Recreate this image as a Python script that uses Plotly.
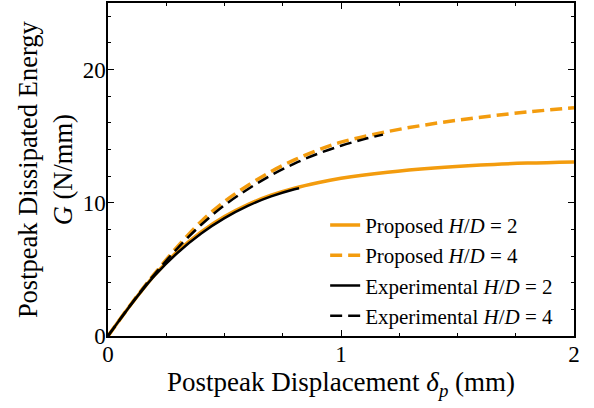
import plotly.graph_objects as go

# Data
x_prop = [0, 0.05, 0.1, 0.15, 0.2, 0.3, 0.4, 0.5, 0.6, 0.7, 0.8, 0.9, 1.0, 1.2, 1.4, 1.6, 1.8, 2.0]
g_prop_hd2 = [0, 1.22, 2.4, 3.52, 4.57, 6.37, 7.82, 8.97, 9.87, 10.57, 11.1, 11.51, 11.84, 12.3, 12.62, 12.84, 12.98, 13.07]
g_prop_hd4 = [0, 1.22, 2.42, 3.58, 4.68, 6.75, 8.6, 10.1, 11.3, 12.35, 13.22, 13.95, 14.55, 15.35, 15.95, 16.42, 16.82, 17.13]

x_exp_hd2 = [0, 0.05, 0.1, 0.15, 0.2, 0.3, 0.4, 0.5, 0.6, 0.7, 0.8, 0.82]
g_exp_hd2 = [0, 1.21, 2.39, 3.5, 4.53, 6.27, 7.7, 8.85, 9.77, 10.48, 11.02, 11.1]

x_exp_hd4 = [0, 0.05, 0.1, 0.15, 0.2, 0.3, 0.4, 0.5, 0.6, 0.7, 0.8, 0.9, 1.0, 1.1, 1.18]
g_exp_hd4 = [0, 1.21, 2.41, 3.56, 4.64, 6.62, 8.35, 9.82, 11.02, 12.07, 12.95, 13.68, 14.28, 14.78, 15.12]

x_label_ticks = [0, 1, 2]
x_half_ticks = [0.5, 1.5]
y_tickvals = [0, 10, 20]

series_names = [
    "Proposed <i>H</i>/<i>D</i> = 2",
    "Proposed <i>H</i>/<i>D</i> = 4",
    "Experimental <i>H</i>/<i>D</i> = 2",
    "Experimental <i>H</i>/<i>D</i> = 4",
]
x_title = "Postpeak Displacement <i>δ</i><sub><i>p</i></sub> (mm)"
y_title = "Postpeak Dissipated Energy<br><i>G</i> (N/mm)"

ORANGE = "#F39C0E"
FONT = "Liberation Serif"

fig = go.Figure()
fig.add_trace(go.Scatter(x=x_prop, y=g_prop_hd2, mode="lines", name=series_names[0],
                         line=dict(color=ORANGE, width=3.5, shape="spline")))
fig.add_trace(go.Scatter(x=x_prop, y=g_prop_hd4, mode="lines", name=series_names[1],
                         line=dict(color=ORANGE, width=3.5, dash="12px,6px", shape="spline")))
fig.add_trace(go.Scatter(x=x_exp_hd2, y=g_exp_hd2, mode="lines", name=series_names[2],
                         line=dict(color="black", width=2.5, shape="spline")))
fig.add_trace(go.Scatter(x=x_exp_hd4, y=g_exp_hd4, mode="lines", name=series_names[3],
                         line=dict(color="black", width=2.5, dash="12px,6px", shape="spline")))

axis_common = dict(
    showline=True, linecolor="black", linewidth=1.5, mirror="ticks",
    ticks="inside", ticklen=6, tickwidth=1.2, tickcolor="black",
    showgrid=False, zeroline=False, automargin=False,
    tickfont=dict(family=FONT, size=23, color="black"),
)

fig.update_xaxes(
    range=[0, 2], tickmode="array", tickvals=x_label_ticks, ticklabelstandoff=-3,
    minor=dict(dtick=0.25, ticks="inside", ticklen=3.5, tickwidth=1, tickcolor="black", showgrid=False),
    title=dict(text=x_title, font=dict(family=FONT, size=27, color="black"), standoff=6),
    **axis_common,
)
fig.update_yaxes(
    range=[0, 25], tickmode="array", tickvals=y_tickvals, ticklabelstandoff=-4,
    minor=dict(dtick=2, ticks="inside", ticklen=3.5, tickwidth=1, tickcolor="black", showgrid=False),
    **axis_common,
)

# medium unlabeled ticks at the half-millimetre positions
fig.update_layout(
    xaxis2=dict(
        overlaying="x", anchor="y", side="bottom", range=[0, 2],
        tickmode="array", tickvals=x_half_ticks, showticklabels=False,
        ticks="inside", ticklen=6, tickwidth=1.2, tickcolor="black",
        showline=True, linecolor="black", linewidth=1.5, mirror="ticks",
        showgrid=False, zeroline=False, automargin=False,
    )
)

fig.add_annotation(
    text=y_title, xref="paper", yref="paper", x=-0.136, y=0.5,
    xanchor="center", yanchor="middle", textangle=-90, showarrow=False,
    font=dict(family=FONT, size=26.5, color="black"),
)

fig.update_layout(
    width=594, height=408,
    margin=dict(l=108, r=20, t=3, b=72),
    plot_bgcolor="white", paper_bgcolor="white",
    font=dict(family=FONT, color="black"),
    legend=dict(
        x=0.466, y=0.394, xanchor="left", yanchor="top",
        bgcolor="rgba(0,0,0,0)", borderwidth=0,
        font=dict(family=FONT, size=21, color="black"),
    ),
)

fig.write_html("out.html", config={"displayModeBar": False},
               post_script="document.body.style.margin='0';")
